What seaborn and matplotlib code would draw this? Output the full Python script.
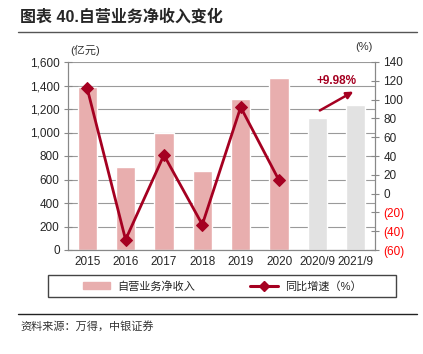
import matplotlib
matplotlib.use("Agg")
import matplotlib.pyplot as plt
from matplotlib.lines import Line2D
from matplotlib.patches import Patch, Rectangle
from matplotlib.ticker import FuncFormatter
import numpy as np
import pandas as pd
import seaborn as sns

# data
periods = ["2015", "2016", "2017", "2018", "2019", "2020", "2020/9", "2021/9"]
income = [1390, 708, 998, 672, 1285, 1464, 1123, 1235]
growth_years = ["2015", "2016", "2017", "2018", "2019", "2020"]
growth = [112, -49, 41, -33, 92, 14]

sns.set_style("white")
plt.rcParams["font.family"] = ["Liberation Sans", "Noto Sans CJK SC", "DejaVu Sans"]

pink = "#E8AEAE"
grey = "#E2E2E2"
red = "#A50021"
bar_colors = [pink] * 6 + [grey] * 2

fig = plt.figure(figsize=(4.23, 3.54), dpi=100)
ax = fig.add_axes([68 / 423, 1 - 250 / 354, 307 / 423, 188 / 354])

df = pd.DataFrame({"period": periods, "income": income})
sns.barplot(data=df, x="period", y="income", hue="period", palette=bar_colors,
            legend=False, width=0.5, ax=ax, saturation=1)
ax.set_ylim(0, 1600)
ax.set_yticks(range(0, 1601, 200))
ax.yaxis.set_major_formatter(FuncFormatter(lambda v, p: f"{int(v):,}"))
ax.set_xlim(-0.5, 7.5)
ax.set_xlabel("")
ax.set_ylabel("")
ax.grid(axis="y", color="#9a9a9a", linewidth=0.8)
ax.set_axisbelow(True)
ax.tick_params(axis="y", labelsize=8.5, direction="inout", length=6, color="#888888", pad=3)
ax.tick_params(axis="x", labelsize=8.5, length=0, pad=4)
ax.set_xticks(np.arange(8) + 0.5, minor=True)
ax.tick_params(axis="x", which="minor", direction="out", length=4, color="#888888")
for s in ["left", "right", "bottom"]:
    ax.spines[s].set_color("#888888")
ax.spines["top"].set_visible(False)

ax2 = ax.twinx()
sns.lineplot(x=np.arange(len(growth)), y=growth, ax=ax2, color=red, linewidth=2.0,
             marker="D", markersize=6, markeredgecolor=red)
ax2.set_ylim(-60, 140)
ax2.set_yticks(range(-60, 141, 20))
ax2.yaxis.set_major_formatter(FuncFormatter(lambda v, p: f"({abs(int(v))})" if v < 0 else f"{int(v)}"))
ax2.tick_params(axis="y", labelsize=8.5, direction="inout", length=6, color="#888888", pad=3)
for lbl, v in zip(ax2.get_yticklabels(), range(-60, 141, 20)):
    if v < 0:
        lbl.set_color("#FF0000")
ax2.set_ylabel("")
for s in ["left", "right", "bottom"]:
    ax2.spines[s].set_color("#888888")
ax2.spines["top"].set_visible(False)

ax2.annotate("", xy=(7.0, 110), xytext=(6.0, 87),
             arrowprops=dict(arrowstyle="-|>", color=red, lw=1.8, mutation_scale=10))
ax2.text(6.5, 113, "+9.98%", color=red, fontsize=8.5, fontweight="bold",
         ha="center", va="bottom")

fig.text(85 / 423, 1 - 50 / 354, "(亿元)", fontsize=8, ha="center", va="center", color="#333333")
fig.text(364 / 423, 1 - 47 / 354, "(%)", fontsize=8, ha="center", va="center", color="#333333")

fig.text(20 / 423, 1 - 17 / 354, "图表 40.自营业务净收入变化", fontsize=11.5, fontweight="bold",
         ha="left", va="center")
fig.add_artist(Line2D([18 / 423, 417 / 423], [1 - 32 / 354] * 2, color="#555555", lw=1))
fig.add_artist(Line2D([18 / 423, 417 / 423], [1 - 314 / 354] * 2, color="#222222", lw=1))
fig.text(20 / 423, 1 - 326 / 354, "资料来源：万得，中银证券", fontsize=8, style="italic",
         ha="left", va="center", color="#333333")

# legend with a hand-drawn box that spans most of the width
fig.add_artist(Rectangle((48 / 423, 1 - 297 / 354), 348 / 423, 22 / 354,
                         transform=fig.transFigure, fill=False, edgecolor="#444444", lw=1))
handles = [Patch(color=pink, label="自营业务净收入"),
           Line2D([], [], color=red, lw=2.2, marker="D", markersize=5, label="同比增速（%）")]
fig.legend(handles=handles, loc="center", bbox_to_anchor=(222 / 423, 1 - 286 / 354),
           ncol=2, fontsize=8, frameon=False, columnspacing=5,
           handlelength=2.5, handletextpad=0.6)

fig.savefig("out.png", dpi=100)
